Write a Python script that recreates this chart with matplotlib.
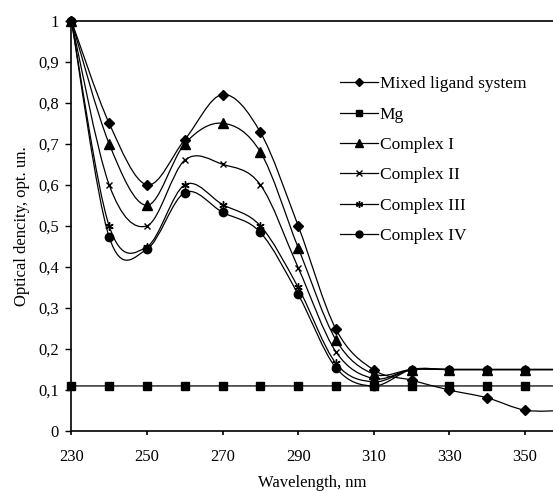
import matplotlib
matplotlib.use("Agg")
import matplotlib.pyplot as plt
from matplotlib.path import Path
from matplotlib.patches import PathPatch
from matplotlib.lines import Line2D

plt.rcParams['font.family'] = ['Liberation Serif', 'DejaVu Serif']

# wavelength, nm
wavelength = [230, 240, 250, 260, 270, 280, 290, 300, 310, 320, 330, 340, 350, 360]

mixed = [1.0, 0.75, 0.60, 0.71, 0.82, 0.728, 0.50, 0.248, 0.149, 0.124, 0.10, 0.081, 0.051, 0.05]
mg = [0.11] * 14
complex_1 = [1.0, 0.70, 0.55, 0.70, 0.75, 0.68, 0.447, 0.222, 0.139, 0.15, 0.15, 0.15, 0.15, 0.15]
complex_2 = [1.0, 0.60, 0.50, 0.66, 0.65, 0.60, 0.398, 0.193, 0.128, 0.15, 0.15, 0.15, 0.15, 0.15]
complex_3 = [1.0, 0.50, 0.449, 0.60, 0.552, 0.50, 0.35, 0.165, 0.12, 0.15, 0.15, 0.15, 0.15, 0.15]
complex_4 = [1.0, 0.473, 0.443, 0.581, 0.533, 0.484, 0.333, 0.154, 0.11, 0.15, 0.15, 0.15, 0.15, 0.15]

names = ["Mixed ligand system", "Mg", "Complex I", "Complex II", "Complex III", "Complex IV"]
series = [mixed, mg, complex_1, complex_2, complex_3, complex_4]
markers = ["D", "s", "^", "x", (6, 2, 0), "o"]
msizes = [5, 5.5, 6.5, 5, 6, 6]

y_ticks = [0, 0.1, 0.2, 0.3, 0.4, 0.5, 0.6, 0.7, 0.8, 0.9, 1.0]
y_labels = ["0", "0,1", "0,2", "0,3", "0,4", "0,5", "0,6", "0,7", "0,8", "0,9", "1"]
x_ticks = [230, 250, 270, 290, 310, 330, 350]


def smooth_path(x, y):
    """
    Excel-like smoothed line as a chain of cubic Bezier segments.

    :param x: list of x values.
    :param y: list of y values.
    :return: matplotlib Path.
    """
    pts = list(zip(x, y))
    n = len(pts)
    verts = [pts[0]]
    codes = [Path.MOVETO]
    for i in range(n - 1):
        p0 = pts[i - 1] if i > 0 else pts[i]
        p1 = pts[i]
        p2 = pts[i + 1]
        p3 = pts[i + 2] if i + 2 < n else pts[i + 1]
        c1 = (p1[0] + (p2[0] - p0[0]) / 6, p1[1] + (p2[1] - p0[1]) / 6)
        c2 = (p2[0] - (p3[0] - p1[0]) / 6, p2[1] - (p3[1] - p1[1]) / 6)
        verts += [c1, c2, p2]
        codes += [Path.CURVE4] * 3
    return Path(verts, codes)


fig = plt.figure(figsize=(5.53, 4.91), dpi=100)
ax = fig.add_axes([0.129, 0.122, 0.871, 0.836])

handles = []
for name, values, m, ms in zip(names, series, markers, msizes):
    patch = PathPatch(smooth_path(wavelength, values), fill=False,
                      edgecolor="black", linewidth=0.9, zorder=2)
    ax.add_patch(patch)
    ax.plot(wavelength, values, linestyle="none", marker=m, markersize=ms,
            color="black", markeredgewidth=1.0, zorder=3, clip_on=False)
    handles.append(Line2D([], [], color="black", linewidth=0.9, marker=m,
                          markersize=ms - 1, markeredgewidth=1.0, label=name))

ax.set_xlim(230, 357.4)
ax.set_ylim(0, 1)
ax.set_xticks(x_ticks)
ax.set_yticks(y_ticks)
ax.set_yticklabels(y_labels)
ax.tick_params(axis="x", length=3, width=1.2, direction="out", labelsize=12, pad=10)
ax.tick_params(axis="y", length=4, width=1, direction="out", labelsize=12, pad=5)

ax.spines["right"].set_visible(False)
for s in ["left", "bottom", "top"]:
    ax.spines[s].set_linewidth(1.2)

ax.set_xlabel("Wavelength, nm", fontsize=12, labelpad=7)
ax.set_ylabel("Optical dencity, opt. un.", fontsize=12, labelpad=6)

ax.legend(handles=handles, loc="upper left", bbox_to_anchor=(0.557, 0.865),
          frameon=False, fontsize=12.5, handlelength=2.2, handletextpad=0.12,
          labelspacing=0.82, borderpad=0, borderaxespad=0)

fig.savefig("out.png", dpi=100)
